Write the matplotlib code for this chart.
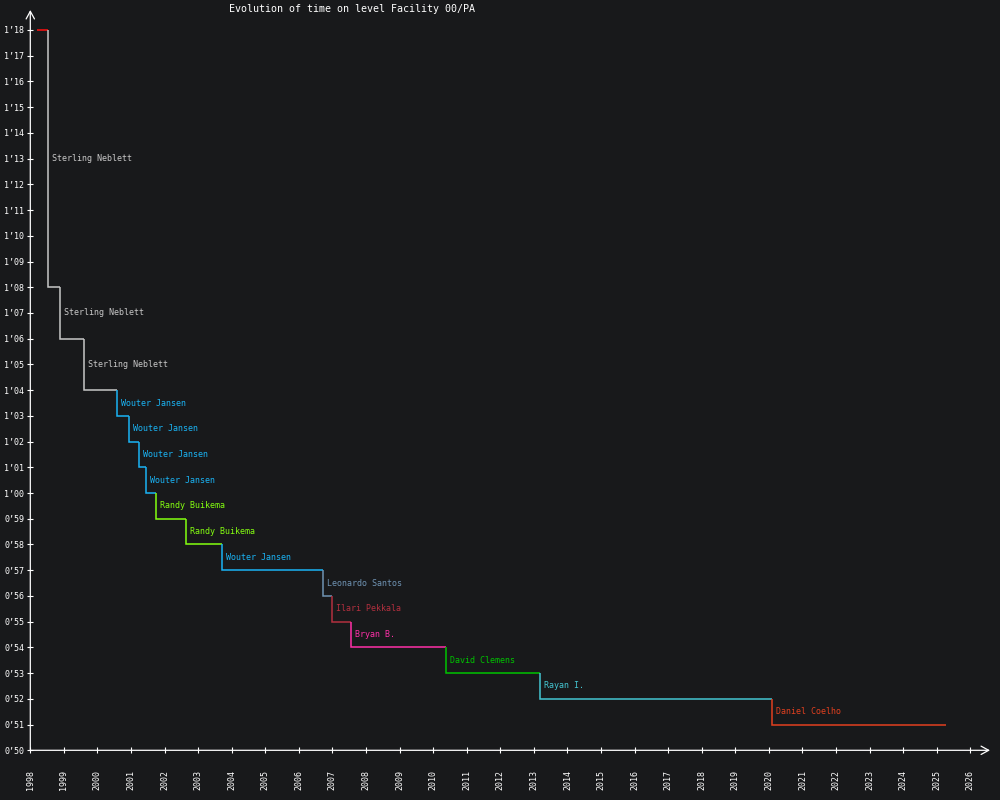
import datetime as dt
import matplotlib
matplotlib.use('Agg')
import matplotlib.pyplot as plt
import matplotlib.dates as mdates
import matplotlib.ticker as mticker

BG = '#18191b'
FONT = 'DejaVu Sans Mono'

# --- record history (date the record was set, time in seconds, holder) ---
record_dates = ['1998-03-14', '1998-07-15', '1998-11-23', '1999-08-11', '2000-08-04',
                '2000-12-06', '2001-03-25', '2001-06-09', '2001-09-26', '2002-08-25',
                '2003-09-20', '2006-09-23', '2006-12-30', '2007-07-24', '2010-05-23',
                '2013-03-11', '2020-02-07']
record_times = [78, 68, 66, 64, 63, 62, 61, 60, 59, 58, 57, 56, 55, 54, 53, 52, 51]
record_holders = ['', 'Sterling Neblett', 'Sterling Neblett', 'Sterling Neblett',
                  'Wouter Jansen', 'Wouter Jansen', 'Wouter Jansen', 'Wouter Jansen',
                  'Randy Buikema', 'Randy Buikema', 'Wouter Jansen', 'Leonardo Santos',
                  'Ilari Pekkala', 'Bryan B.', 'David Clemens', 'Rayan I.', 'Daniel Coelho']
end_date = '2025-04-08'

HOLDER_COLORS = {
    '':                '#ff1010',
    'Sterling Neblett': '#c8c8c8',
    'Wouter Jansen':   '#1ab4f5',
    'Randy Buikema':   '#84ff10',
    'Leonardo Santos': '#6f93b3',
    'Ilari Pekkala':   '#b3303f',
    'Bryan B.':        '#ff30a8',
    'David Clemens':   '#00c400',
    'Rayan I.':        '#44c6d2',
    'Daniel Coelho':   '#e2401f',
}

dates = [dt.datetime.strptime(d, '%Y-%m-%d') for d in record_dates]
dates.append(dt.datetime.strptime(end_date, '%Y-%m-%d'))

fig = plt.figure(figsize=(10, 8), dpi=100, facecolor=BG)
# axes placed in pixels: origin (30.3, 750.3), arrows end at x=990 / y=10
ax = fig.add_axes([30.3 / 1000, (800 - 750.3) / 800, (990 - 30.3) / 1000, (750.3 - 10) / 800])
ax.set_facecolor(BG)

x0 = mdates.date2num(dt.datetime(1998, 1, 1))
x1 = mdates.date2num(dt.datetime(2026, 1, 1))
ax.set_xlim(x0, x0 + (x1 - x0) * (990 - 30.3) / (970.3 - 30.3))
ax.set_ylim(50, 50 + 28 * (750.3 - 10) / (750.3 - 30))

# --- step line, one colour per record ---
for i, t in enumerate(record_times):
    color = HOLDER_COLORS[record_holders[i]]
    if i == 0:
        ax.plot([dates[i], dates[i + 1]], [t, t], color=color, lw=1.1, solid_capstyle='butt')
        continue
    prev = record_times[i - 1]
    ax.plot([dates[i], dates[i], dates[i + 1]], [prev, t, t], color=color, lw=1.1,
            solid_capstyle='butt', solid_joinstyle='miter')
    ax.annotate(record_holders[i], xy=(dates[i], (prev + t) / 2), xytext=(4, 0),
                textcoords='offset pixels', va='center', ha='left',
                color=color, fontsize=6, family=FONT)

# --- axes with open arrow heads ---
for s in ax.spines.values():
    s.set_visible(False)
arrow = dict(arrowstyle='->,head_length=0.55,head_width=0.3', color='white', lw=0.9,
             shrinkA=0, shrinkB=0)
ax.annotate('', xy=(1, 0), xytext=(0, 0), xycoords='axes fraction', arrowprops=arrow)
ax.annotate('', xy=(0, 1), xytext=(0, 0), xycoords='axes fraction', arrowprops=arrow)

ax.set_xticks([mdates.date2num(dt.datetime(y, 1, 1)) for y in range(1998, 2027)])
ax.xaxis.set_major_formatter(mdates.DateFormatter('%Y'))
ax.set_yticks(range(50, 79))
ax.yaxis.set_major_formatter(mticker.FuncFormatter(lambda v, p: f"{int(v) // 60}\u2019{int(v) % 60:02d}"))

ax.tick_params(axis='both', direction='inout', length=5, width=0.8, color='white',
               labelcolor='white', labelsize=6)
ax.tick_params(axis='x', pad=12, labelrotation=90)
ax.tick_params(axis='y', pad=2)
for lab in ax.get_xticklabels() + ax.get_yticklabels():
    lab.set_family(FONT)

fig.text(0.352, 0.995, 'Evolution of time on level Facility 00/PA', ha='center', va='top',
         color='white', fontsize=7.2, family=FONT)

fig.savefig('out.png', dpi=100, facecolor=BG)
